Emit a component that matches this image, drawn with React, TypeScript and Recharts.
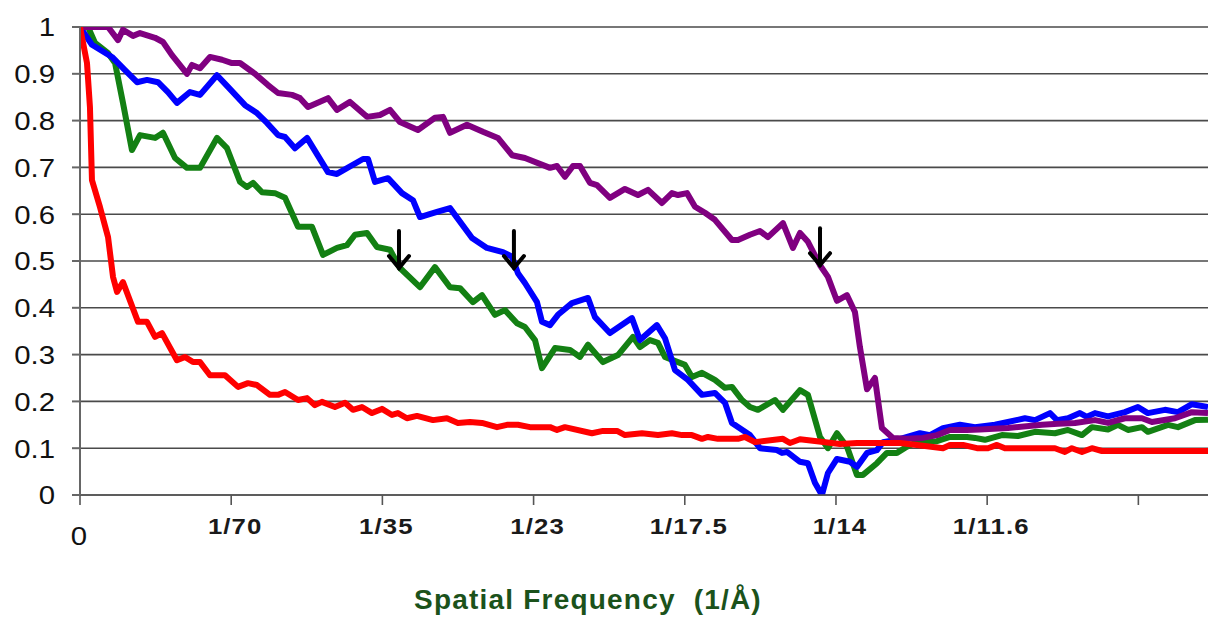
import React from 'react';
import { LineChart, Line, XAxis, YAxis, CartesianGrid, ReferenceDot } from 'recharts';

// spatial frequency in 10^-3 1/Å, FSC value
const purpleCurve: [number, number][] = [
  [0, 1.0], [2.65, 1.0], [3.59, 0.972], [4.06, 0.994], [5.01, 0.981], [5.67, 0.987], [7.09, 0.977],
  [7.84, 0.968], [8.69, 0.94], [10.11, 0.9], [10.58, 0.919], [11.34, 0.912], [12.28, 0.936], [13.42, 0.93],
  [14.36, 0.923], [15.12, 0.923], [16.53, 0.9], [17.76, 0.876], [18.71, 0.859], [20.03, 0.855], [20.79, 0.848],
  [21.54, 0.829], [23.43, 0.848], [24.28, 0.823], [25.51, 0.84], [27.12, 0.808], [28.34, 0.812], [29.29, 0.823],
  [30.23, 0.797], [31.93, 0.78], [33.54, 0.806], [34.3, 0.808], [34.96, 0.774], [36.56, 0.791], [38.07, 0.776],
  [39.49, 0.763], [40.82, 0.726], [42.04, 0.72], [44.41, 0.699], [45.07, 0.703], [45.82, 0.68], [46.58, 0.703],
  [47.24, 0.703], [48.18, 0.667], [48.85, 0.662], [50.07, 0.635], [51.49, 0.654], [52.72, 0.641], [53.67, 0.652],
  [54.99, 0.624], [55.93, 0.645], [56.5, 0.641], [57.35, 0.645], [58.11, 0.616], [59.05, 0.603], [59.99, 0.588],
  [61.6, 0.545], [62.17, 0.545], [63.3, 0.556], [64.25, 0.564], [65.0, 0.551], [66.42, 0.581], [67.36, 0.528],
  [68.03, 0.56], [68.78, 0.541], [69.92, 0.491], [70.67, 0.466], [71.52, 0.415], [72.47, 0.427], [73.22, 0.391],
  [73.69, 0.316], [74.36, 0.226], [75.11, 0.25], [75.77, 0.143], [76.81, 0.122], [78.13, 0.12], [79.65, 0.122],
  [80.97, 0.128], [82.2, 0.139], [83.8, 0.139], [85.03, 0.14], [87.68, 0.143], [90.89, 0.15], [92.4, 0.152],
  [94.01, 0.154], [95.9, 0.16], [97.13, 0.154], [98.73, 0.164], [100.34, 0.164], [101.28, 0.156], [103.46, 0.164],
  [105.06, 0.177], [106.58, 0.175],
];

const blueCurve: [number, number][] = [
  [0, 1.0], [1.13, 0.962], [3.02, 0.936], [4.25, 0.908], [5.39, 0.882], [6.33, 0.887], [7.37, 0.882],
  [8.31, 0.861], [9.16, 0.838], [10.39, 0.861], [11.34, 0.855], [12.94, 0.897], [13.98, 0.872], [15.59, 0.833],
  [16.72, 0.816], [17.67, 0.795], [18.71, 0.769], [19.37, 0.765], [20.31, 0.741], [21.45, 0.763], [23.43, 0.69],
  [24.28, 0.686], [26.74, 0.718], [27.21, 0.718], [27.87, 0.669], [29.1, 0.677], [30.42, 0.645], [31.46, 0.63],
  [32.12, 0.594], [33.73, 0.605], [34.96, 0.613], [37.04, 0.549], [38.45, 0.528], [39.96, 0.519], [40.82, 0.509],
  [41.38, 0.474], [42.04, 0.453], [43.18, 0.412], [43.65, 0.37], [44.41, 0.363], [45.16, 0.385], [46.48, 0.41],
  [48.0, 0.421], [48.66, 0.38], [50.07, 0.346], [52.15, 0.378], [52.91, 0.331], [54.51, 0.363], [55.27, 0.335],
  [56.22, 0.267], [57.44, 0.246], [58.77, 0.214], [59.99, 0.218], [60.94, 0.197], [61.6, 0.154], [63.3, 0.128],
  [64.25, 0.1], [65.85, 0.096], [66.33, 0.09], [66.8, 0.092], [68.03, 0.071], [68.78, 0.068], [69.44, 0.026],
  [70.1, 0.0], [70.67, 0.047], [71.52, 0.077], [72.75, 0.071], [73.41, 0.06], [74.36, 0.09], [75.3, 0.096],
  [75.87, 0.113], [77.19, 0.118], [79.36, 0.132], [80.31, 0.128], [81.54, 0.143], [83.14, 0.15], [84.56, 0.145],
  [86.45, 0.15], [87.68, 0.156], [89.28, 0.164], [90.23, 0.16], [91.65, 0.175], [92.31, 0.16], [93.35, 0.164],
  [94.48, 0.175], [95.14, 0.167], [95.9, 0.175], [97.13, 0.168], [98.73, 0.177], [99.96, 0.188], [100.9, 0.175],
  [102.51, 0.182], [103.74, 0.177], [105.06, 0.194], [106.58, 0.188],
];

const greenCurve: [number, number][] = [
  [0, 1.0], [0.76, 1.0], [1.42, 0.966], [2.65, 0.944], [3.31, 0.923], [4.06, 0.838], [4.91, 0.737],
  [5.67, 0.769], [7.09, 0.763], [7.84, 0.774], [8.98, 0.72], [10.11, 0.699], [11.34, 0.699], [12.94, 0.763],
  [13.89, 0.741], [15.12, 0.669], [15.78, 0.658], [16.35, 0.667], [17.2, 0.647], [18.42, 0.645], [19.37, 0.635],
  [20.6, 0.573], [21.92, 0.573], [22.96, 0.513], [24.28, 0.528], [25.23, 0.534], [25.98, 0.556], [27.12, 0.56],
  [28.06, 0.53], [29.29, 0.524], [30.23, 0.485], [32.12, 0.444], [33.54, 0.487], [34.96, 0.444], [35.9, 0.442],
  [37.13, 0.412], [37.98, 0.427], [39.21, 0.385], [40.15, 0.395], [41.29, 0.367], [42.04, 0.359], [42.99, 0.331],
  [43.65, 0.271], [44.88, 0.314], [46.3, 0.31], [47.24, 0.295], [48.0, 0.321], [49.41, 0.284], [50.83, 0.299],
  [52.25, 0.338], [52.91, 0.316], [53.85, 0.331], [54.61, 0.325], [55.27, 0.295], [57.16, 0.278], [57.82, 0.252],
  [58.77, 0.261], [59.99, 0.246], [60.94, 0.229], [61.6, 0.231], [62.55, 0.203], [63.3, 0.188], [64.06, 0.182],
  [65.66, 0.203], [66.42, 0.182], [68.03, 0.224], [68.78, 0.214], [69.92, 0.124], [70.67, 0.1], [71.52, 0.132],
  [72.47, 0.103], [73.41, 0.043], [73.98, 0.043], [75.3, 0.068], [76.24, 0.09], [77.19, 0.09], [78.13, 0.103],
  [79.08, 0.113], [80.97, 0.115], [82.2, 0.124], [83.8, 0.124], [84.56, 0.122], [85.5, 0.118], [87.11, 0.128],
  [88.62, 0.126], [90.23, 0.135], [92.12, 0.132], [93.35, 0.139], [94.67, 0.128], [95.61, 0.145], [97.13, 0.14],
  [98.07, 0.15], [99.02, 0.139], [100.34, 0.145], [100.9, 0.135], [102.8, 0.15], [103.74, 0.145], [105.35, 0.16],
  [106.58, 0.161],
];

const redCurve: [number, number][] = [
  [0, 1.0], [0.66, 0.923], [0.94, 0.829], [1.13, 0.673], [1.89, 0.615], [2.65, 0.551], [3.12, 0.466],
  [3.5, 0.434], [4.06, 0.455], [5.48, 0.37], [6.33, 0.37], [7.09, 0.338], [7.75, 0.346], [9.16, 0.288],
  [9.92, 0.295], [10.68, 0.284], [11.34, 0.284], [12.28, 0.256], [13.7, 0.256], [14.93, 0.231], [15.87, 0.239],
  [16.72, 0.235], [17.95, 0.214], [18.71, 0.214], [19.37, 0.22], [20.6, 0.203], [21.45, 0.207], [22.2, 0.192],
  [22.86, 0.199], [24.09, 0.188], [25.04, 0.197], [25.79, 0.182], [26.64, 0.188], [27.59, 0.175], [28.53, 0.184],
  [29.48, 0.171], [30.04, 0.175], [30.89, 0.164], [31.84, 0.169], [33.35, 0.16], [34.67, 0.164], [35.71, 0.154],
  [36.85, 0.156], [37.98, 0.154], [39.4, 0.145], [40.34, 0.15], [41.38, 0.15], [42.52, 0.145], [44.41, 0.145],
  [45.07, 0.139], [45.82, 0.145], [48.37, 0.132], [49.41, 0.137], [50.74, 0.137], [51.49, 0.128], [53.1, 0.132],
  [54.61, 0.128], [55.93, 0.132], [56.88, 0.128], [57.82, 0.128], [58.77, 0.12], [59.33, 0.124], [60.28, 0.12],
  [62.17, 0.12], [62.83, 0.124], [63.77, 0.113], [66.42, 0.12], [67.08, 0.111], [68.03, 0.119], [69.63, 0.115],
  [71.8, 0.109], [73.41, 0.111], [75.3, 0.111], [77.47, 0.111], [79.08, 0.107], [81.54, 0.1], [82.2, 0.107],
  [83.43, 0.107], [84.75, 0.1], [85.79, 0.1], [86.64, 0.107], [87.39, 0.1], [92.12, 0.1], [93.06, 0.092],
  [93.72, 0.1], [94.67, 0.092], [95.61, 0.1], [96.56, 0.094], [106.58, 0.094],
];

// tick positions: 0, 1/70, 2/70 ... (in 10^-3 1/Å)
const xTicks = [0, 14.286, 28.571, 42.857, 57.143, 71.429, 85.714, 100];
const xTickLabels = ['0', '1/70', '1/35', '1/23', '1/17.5', '1/14', '1/11.6', ''];
const yTicks = [0, 0.1, 0.2, 0.3, 0.4, 0.5, 0.6, 0.7, 0.8, 0.9, 1];

// arrow tips marking the 0.5 crossings
const arrowX = [30.14, 41.0, 69.92];
const arrowY = [0.485, 0.485, 0.491];

const toPoints = (pairs: [number, number][]) => pairs.map(([x, y]) => ({ x, y }));

const FONT = '"Liberation Sans", Arial, sans-serif';

const YTick = (props: any) => {
  const { x, y, payload } = props;
  const v = payload.value;
  const label = v === 0 ? '0' : v === 1 ? '1' : v.toFixed(1);
  return (
    <g transform={`translate(${x},${y}) scale(1.13,1)`}>
      <text x={0} y={0} dy="0.36em" textAnchor="end" fontSize={26} fontFamily={FONT} fill="#111">
        {label}
      </text>
    </g>
  );
};

const XTick = (props: any) => {
  const { x, y, payload } = props;
  const idx = xTicks.indexOf(payload.value);
  const label = idx >= 0 ? xTickLabels[idx] : '';
  if (idx === 0) {
    return (
      <g transform={`translate(${x - 1},${y}) scale(1.13,1)`}>
        <text x={0} y={0} dy={36} textAnchor="middle" fontSize={26} fontFamily={FONT} fill="#111">
          {label}
        </text>
      </g>
    );
  }
  return (
    <g transform={`translate(${x + 4},${y}) scale(1.12,1)`}>
      <text x={0} y={0} dy={25} textAnchor="middle" fontSize={23} fontWeight="bold" fontFamily={FONT} fill="#1a1a1a" letterSpacing={1}>
        {label}
      </text>
    </g>
  );
};

const ArrowDown = (props: any) => {
  const { cx, cy } = props;
  return (
    <g stroke="#000" strokeWidth={4} fill="none" strokeLinecap="round">
      <path d={`M${cx},${cy - 37} L${cx},${cy}`} />
      <path d={`M${cx - 10},${cy - 12} L${cx},${cy} L${cx + 10},${cy - 12}`} />
    </g>
  );
};

const XTitle = (props: any) => {
  const { viewBox } = props;
  const cx = viewBox.x + viewBox.width / 2 - 56;
  return (
    <text x={cx} y={609} textAnchor="middle" fontSize={28} fontWeight="bold" fontFamily={FONT} fill="#1b521b" letterSpacing={1.2} style={{ whiteSpace: 'pre' }}>
      Spatial Frequency  (1/Å)
    </text>
  );
};

const App: React.FC = () => {
  return (
    <div style={{ position: 'absolute', left: 0, top: 0, background: '#fff' }}>
      <LineChart width={1208} height={618} margin={{ top: 27, right: 0, left: 0, bottom: 0 }}>
        <CartesianGrid vertical={false} stroke="#4a4a4a" strokeWidth={1.6} />
        <XAxis
          type="number"
          dataKey="x"
          domain={[0, 106.58]}
          ticks={xTicks}
          allowDataOverflow
          height={123}
          tickSize={10}
          tickMargin={4}
          stroke="#555"
          strokeWidth={1.6}
          tick={<XTick />}
          interval={0}
          label={<XTitle />}
        />
        <YAxis
          type="number"
          domain={[0, 1]}
          ticks={yTicks}
          allowDataOverflow
          width={80}
          tickSize={8}
          tickMargin={17}
          stroke="#666"
          strokeWidth={2}
          tick={<YTick />}
          interval={0}
        />
        <Line data={toPoints(greenCurve)} dataKey="y" type="linear" stroke="#138013" strokeWidth={6} dot={false} isAnimationActive={false} strokeLinejoin="round" />
        <Line data={toPoints(blueCurve)} dataKey="y" type="linear" stroke="#0000ff" strokeWidth={6} dot={false} isAnimationActive={false} strokeLinejoin="round" />
        <Line data={toPoints(purpleCurve)} dataKey="y" type="linear" stroke="#800080" strokeWidth={6} dot={false} isAnimationActive={false} strokeLinejoin="round" />
        <Line data={toPoints(redCurve)} dataKey="y" type="linear" stroke="#ff0000" strokeWidth={6} dot={false} isAnimationActive={false} strokeLinejoin="round" />
        {arrowX.map((ax, i) => (
          <ReferenceDot key={i} x={ax} y={arrowY[i]} r={0} shape={<ArrowDown />} ifOverflow="visible" />
        ))}
      </LineChart>
    </div>
  );
};

export default App;
